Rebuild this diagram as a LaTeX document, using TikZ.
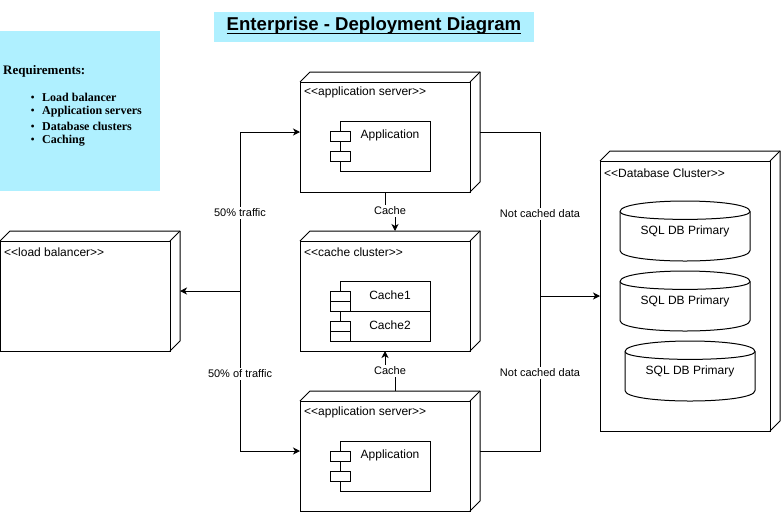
\documentclass[tikz,border=0pt]{standalone}
\usepackage{fontspec}
\setmainfont{Liberation Sans}
\newfontfamily\reqfont{Liberation Serif}
\usetikzlibrary{arrows.meta,calc}
\definecolor{cyanfill}{RGB}{175,240,255}

% 3D deployment node: name, x, y, w, h (pixel units, depth 10)
\newcommand\depbox[5]{%
  \node[bbox, minimum width=#4, minimum height=#5, anchor=north west] (#1) at (#2,#3) {};
  \node[frontface, minimum width=#4-10, minimum height=#5-10, anchor=south west] (#1-f) at (#1.south west) {};
  \draw[ln, line join=round] (#1-f.north west) -- ++(10,-10) -- (#1.north east) -- ++(0,#5-10) -- (#1-f.south east);
  \draw[ln] (#1-f.north east) -- (#1.north east);
}
% cylinder: name, x, y, w, h
\newcommand\dbcyl[5]{%
  \def\dy{10.5}%
  \draw[ln, fill=white] (#2,#3+\dy) .. controls (#2,#3-\dy/3) and (#2+#4,#3-\dy/3) .. (#2+#4,#3+\dy)
     -- (#2+#4,#3+#5-\dy) .. controls (#2+#4,#3+#5+\dy/3) and (#2,#3+#5+\dy/3) .. (#2,#3+#5-\dy) -- cycle;
  \draw[ln] (#2,#3+\dy) .. controls (#2,#3+2*\dy) and (#2+#4,#3+2*\dy) .. (#2+#4,#3+\dy);
  \node[lbl] (#1) at (#2+#4/2,#3+#5/2+0.5) {SQL DB Primary};
}

\begin{document}
\begin{tikzpicture}[x=1pt,y=-1pt,
  ln/.style={line width=1pt, draw=black},
  bbox/.style={inner sep=0pt, outer sep=0pt},
  frontface/.style={draw=black, line width=1pt, fill=white, inner sep=0pt, outer sep=0pt},
  comp/.style={draw=black, line width=1pt, fill=white, inner sep=0pt, outer sep=0pt, anchor=north west},
  tabbox/.style={draw=black, line width=1pt, fill=white, inner sep=0pt, outer sep=0pt, anchor=north west, minimum width=20, minimum height=10},
  lbl/.style={font=\fontsize{12}{14}\selectfont, inner sep=0pt},
  stereo/.style={font=\fontsize{12}{14}\selectfont, inner sep=0pt, anchor=west},
  elbl/.style={font=\fontsize{11}{13}\selectfont, fill=white, inner sep=1.5pt},
  arr/.style={line width=1pt, -{Stealth[length=7pt,width=7pt,inset=2pt]}},
  conn/.style={line width=1pt},
  reqitem/.style={font=\reqfont\bfseries\fontsize{12}{14}\selectfont, inner sep=0pt, anchor=west}
]
\useasboundingbox (0,0) rectangle (781,512);
\fill[white] (0,0) rectangle (781,512);

% title
\node[fill=cyanfill, minimum width=320, minimum height=30, inner sep=0pt] (title) at (374,27) {};
\node[inner sep=0pt, font=\bfseries\fontsize{18.6}{22}\selectfont] (titletext) at (374,26) {Enterprise - Deployment Diagram};
\draw[line width=1.4pt] ($(titletext.base west)+(0,2.5)$) -- ($(titletext.base east)+(0,2.5)$);

% requirements
\node[fill=cyanfill, minimum width=160, minimum height=160, inner sep=0pt, anchor=north west] (req) at (0,31) {};
\node[font=\reqfont\bfseries\fontsize{13}{15}\selectfont, inner sep=0pt, anchor=west] (reqt) at (3,71) {Requirements:};
\node[reqitem] (r1) at (42,97) {Load balancer};
\node[reqitem] (r2) at (42,112) {Application servers};
\node[reqitem] (r3) at (42,126) {Database clusters};
\node[reqitem] (r4) at (42,141) {Caching};
\foreach \nm in {r1,r2,r3,r4}
  \node[font=\reqfont\fontsize{12}{14}\selectfont, inner sep=0pt, anchor=base east] at ($(\nm.base west)+(-7,0)$) {\textbullet};

% 3D nodes
\depbox{app1}{300}{72}{180}{120}
\depbox{cache}{300}{231}{180}{120}
\depbox{app2}{300}{391}{180}{120}
\depbox{lb}{0}{231}{180}{120}
\depbox{db}{600}{151}{180}{280}

\node[stereo] (app1s) at (304,92) {<{}<application server>{}>};
\node[stereo] (caches) at (304,252) {<{}<cache cluster>{}>};
\node[stereo] (app2s) at (304,412) {<{}<application server>{}>};
\node[stereo] (lbs) at (4,252) {<{}<load balancer>{}>};
\node[stereo] (dbs) at (604,173) {<{}<Database Cluster>{}>};

% components
\node[comp, minimum width=90, minimum height=50] (c1) at (340,121) {};
\node[tabbox] (c1t1) at (330,131) {};
\node[tabbox] (c1t2) at (330,151) {};
\node[lbl] (c1l) at (390,135) {Application};

\node[comp, minimum width=90, minimum height=30] (k1) at (340,281) {};
\node[tabbox] (k1t1) at (330,291) {};
\node[tabbox] (k1t2) at (330,301) {};
\node[lbl] (k1l) at (390,295) {Cache1};
\node[comp, minimum width=90, minimum height=30] (k2) at (340,311) {};
\node[tabbox] (k2t1) at (330,321) {};
\node[tabbox] (k2t2) at (330,331) {};
\node[lbl] (k2l) at (390,325) {Cache2};

\node[comp, minimum width=90, minimum height=50] (c2) at (340,441) {};
\node[tabbox] (c2t1) at (330,451) {};
\node[tabbox] (c2t2) at (330,471) {};
\node[lbl] (c2l) at (390,455) {Application};

% database cylinders
\dbcyl{db1}{620}{201}{130}{60}
\dbcyl{db2}{620}{271}{130}{60}
\dbcyl{db3}{625}{341}{130}{60}

% load balancer connectors
\coordinate (j1) at ($(lb.east)+(60,0)$);
\draw[arr] (j1) -- (lb.east);
\draw[arr] (j1) |- (app1.west);
\draw[arr] (j1) |- (app2.west);
\node[elbl] (t1) at (240,213) {50\% traffic};
\node[elbl] (t2) at (240,374) {50\% of traffic};

% not cached data connectors
\coordinate (j2) at ($(db-f.west)+(-60,0)$);
\draw[conn] (app1.east) -| (j2);
\draw[conn] (app2.east) -| (j2);
\draw[arr] (j2) -- (db-f.west);
\node[elbl] (n1) at (540,214) {Not cached data};
\node[elbl] (n2) at (540,373) {Not cached data};

% cache connectors
\draw[arr] (app1-f.south) -- ++(0,19) -| ($(cache.north)+(5,0)$);
\node[elbl] (ca1) at (390,211) {Cache};
\draw[arr] ($(app2.north)+(5,0)$) -- ++(0,-20) -| (cache-f.south);
\node[elbl] (ca2) at (390,371) {Cache};
\end{tikzpicture}
\end{document}
